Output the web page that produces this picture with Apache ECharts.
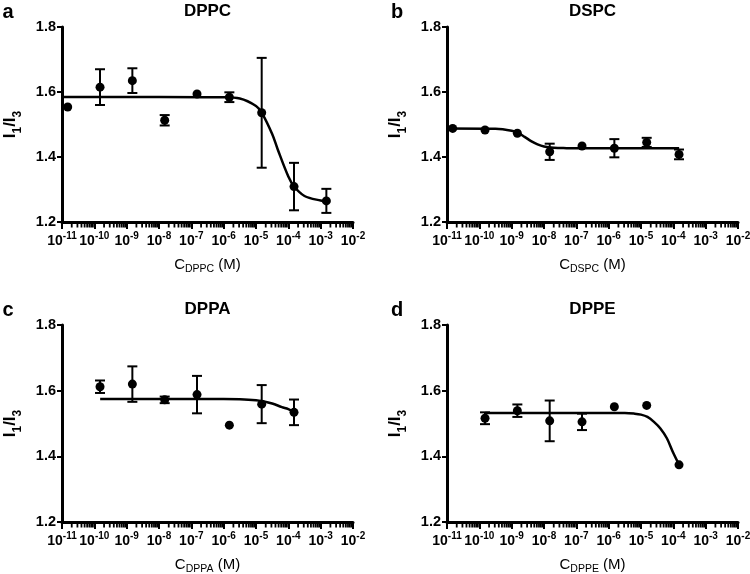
<!DOCTYPE html>
<html>
<head>
<meta charset="utf-8">
<script src="https://cdn.jsdelivr.net/npm/echarts@6/dist/echarts.min.js"></script>
<style>html,body{margin:0;padding:0;background:#fff}#c{width:750px;height:574px}</style>
</head>
<body>
<div id="c"></div>
<script>
// ---- data ----
const panelTitles = ['DPPC', 'DSPC', 'DPPA', 'DPPE'];
const panelLetters = ['a', 'b', 'c', 'd'];
const yTicks = [1.2, 1.4, 1.6, 1.8];

// Panel a: DPPC
const aConc = [1.5e-11, 1.5e-10, 1.5e-9, 1.5e-8, 1.5e-7, 1.5e-6, 1.5e-5, 1.5e-4, 1.5e-3];
const aMean = [1.554, 1.615, 1.635, 1.513, 1.594, 1.584, 1.536, 1.309, 1.265];
const aErr  = [0, 0.055, 0.038, 0.016, 0, 0.015, 0.169, 0.073, 0.037];
const aFitLogC = [-11, -8, -6, -5.5, -5, -4.82, -4.5, -4.33, -4, -3.82, -3.5, -3, -2.82];
const aFitY    = [1.585, 1.585, 1.584, 1.580, 1.557, 1.536, 1.471, 1.424, 1.340, 1.309, 1.280, 1.266, 1.264];

// Panel b: DSPC
const bConc = [1.5e-11, 1.5e-10, 1.5e-9, 1.5e-8, 1.5e-7, 1.5e-6, 1.5e-5, 1.5e-4];
const bMean = [1.488, 1.483, 1.473, 1.416, 1.434, 1.427, 1.445, 1.408];
const bErr  = [0, 0, 0, 0.025, 0, 0.028, 0.014, 0.015];
const bFitLogC = [-11, -9.5, -9, -8.8, -8.6, -8.4, -8.2, -8, -7.7, -7.3, -7, -3.82];
const bFitY    = [1.488, 1.487, 1.481, 1.474, 1.462, 1.449, 1.439, 1.4325, 1.4286, 1.4273, 1.427, 1.427];

// Panel c: DPPA
const cConc = [1.5e-10, 1.5e-9, 1.5e-8, 1.5e-7, 1.5e-6, 1.5e-5, 1.5e-4];
const cMean = [1.612, 1.620, 1.572, 1.588, 1.495, 1.559, 1.534];
const cErr  = [0.019, 0.054, 0.010, 0.057, 0, 0.058, 0.039];
const cFitLogC = [-9.82, -7, -6, -5.5, -5, -4.8, -4.5, -4.2, -4, -3.82];
const cFitY    = [1.575, 1.575, 1.575, 1.574, 1.571, 1.568, 1.561, 1.550, 1.544, 1.535];

// Panel d: DPPE
const dConc = [1.5e-10, 1.5e-9, 1.5e-8, 1.5e-7, 1.5e-6, 1.5e-5, 1.5e-4];
const dMean = [1.516, 1.539, 1.508, 1.505, 1.551, 1.555, 1.374];
const dErr  = [0.018, 0.019, 0.062, 0.025, 0, 0, 0];
const dFitLogC = [-9.82, -7, -6, -5.5, -5.2, -5, -4.8, -4.6, -4.4, -4.2, -4, -3.82];
const dFitY    = [1.532, 1.532, 1.532, 1.532, 1.530, 1.527, 1.520, 1.505, 1.485, 1.455, 1.41, 1.374];

// ---- chart ----
const FONT = '"Liberation Sans", Arial, Helvetica, sans-serif';
const panels = [
  {conc: aConc, mean: aMean, err: aErr, fx: aFitLogC, fy: aFitY},
  {conc: bConc, mean: bMean, err: bErr, fx: bFitLogC, fy: bFitY},
  {conc: cConc, mean: cMean, err: cErr, fx: cFitLogC, fy: cFitY},
  {conc: dConc, mean: dMean, err: dErr, fx: dFitLogC, fy: dFitY}
];
const grids = [
  {left: 62, top: 27, width: 291, height: 195, outerBoundsMode: 'none', containLabel: false},
  {left: 447, top: 27, width: 291, height: 195, outerBoundsMode: 'none', containLabel: false},
  {left: 62, top: 325, width: 291, height: 197, outerBoundsMode: 'none', containLabel: false},
  {left: 447, top: 325, width: 291, height: 197, outerBoundsMode: 'none', containLabel: false}
];

const xAxes = [], yAxes = [], series = [], graphics = [];
panels.forEach((p, i) => {
  xAxes.push({
    type: 'log', logBase: 10, gridIndex: i, min: 1e-11, max: 1e-2,
    splitLine: {show: false},
    axisLine: {lineStyle: {color: '#000', width: 3}},
    axisTick: {show: true, length: 7, lineStyle: {color: '#000', width: 2}},
    axisLabel: {
      margin: 9, color: '#000',
      formatter: v => '{b|10}{s|' + Math.round(Math.log10(v)) + '}',
      rich: {
        b: {fontSize: 14, fontWeight: 'bold', fontFamily: FONT, color: '#000', lineHeight: 17, verticalAlign: 'bottom'},
        s: {fontSize: 10, fontWeight: 'bold', fontFamily: FONT, color: '#000', verticalAlign: 'top'}
      }
    },
    name: '{m|C}{s|' + panelTitles[i] + '}{m| (M)}',
    nameLocation: 'middle', nameGap: 35,
    nameTextStyle: {
      rich: {
        m: {fontSize: 15, fontFamily: FONT, color: '#000', lineHeight: 18, verticalAlign: 'top'},
        s: {fontSize: 10.5, fontFamily: FONT, color: '#000', verticalAlign: 'bottom'}
      }
    }
  });
  yAxes.push({
    type: 'value', gridIndex: i, min: 1.2, max: 1.8, interval: 0.2,
    splitLine: {show: false},
    axisLine: {show: true, lineStyle: {color: '#000', width: 3}},
    axisTick: {show: true, length: 5, lineStyle: {color: '#000', width: 2}},
    axisLabel: {margin: 6, color: '#000', fontSize: 14.5, fontWeight: 'bold', fontFamily: FONT,
      formatter: v => v.toFixed(1)},
    name: '{m|I}{s|1}{m|/I}{s|3}',
    nameLocation: 'middle', nameRotate: 90, nameGap: 38,
    nameTextStyle: {
      rich: {
        m: {fontSize: 17, fontWeight: 'bold', fontFamily: FONT, color: '#000', lineHeight: 22, verticalAlign: 'top'},
        s: {fontSize: 12, fontWeight: 'bold', fontFamily: FONT, color: '#000', verticalAlign: 'bottom'}
      }
    }
  });
  // fitted curve
  series.push({
    type: 'line', xAxisIndex: i, yAxisIndex: i, smooth: 0.35, showSymbol: false, silent: true,
    lineStyle: {color: '#000', width: 2.5},
    data: p.fx.map((lx, j) => [Math.pow(10, lx), p.fy[j]]), z: 3
  });
  // error bars
  series.push({
    type: 'custom', xAxisIndex: i, yAxisIndex: i, silent: true, clip: false, z: 4,
    data: p.conc.map((c, j) => [c, p.mean[j], p.err[j]]),
    renderItem: (params, api) => {
      const x = api.value(0), y = api.value(1), e = api.value(2);
      if (!e) return null;
      const t = api.coord([x, y + e]), b = api.coord([x, y - e]);
      const hw = 5, st = {stroke: '#000', lineWidth: 2};
      return {type: 'group', children: [
        {type: 'line', shape: {x1: t[0], y1: t[1], x2: b[0], y2: b[1]}, style: st},
        {type: 'line', shape: {x1: t[0] - hw, y1: t[1], x2: t[0] + hw, y2: t[1]}, style: st},
        {type: 'line', shape: {x1: b[0] - hw, y1: b[1], x2: b[0] + hw, y2: b[1]}, style: st}
      ]};
    }
  });
  // points
  series.push({
    type: 'scatter', xAxisIndex: i, yAxisIndex: i, symbolSize: 9, silent: true, z: 5,
    itemStyle: {color: '#000', opacity: 1},
    data: p.conc.map((c, j) => [c, p.mean[j]])
  });
  const g = grids[i];
  graphics.push({type: 'text', x: g.left + g.width / 2, y: g.top - 16,
    style: {text: panelTitles[i], font: 'bold 17px ' + FONT, fill: '#000', textAlign: 'center', textVerticalAlign: 'middle'}});
  graphics.push({type: 'text', x: (i % 2 === 0 ? 8 : 397), y: g.top - 15,
    style: {text: panelLetters[i], font: 'bold 20px ' + FONT, fill: '#000', textAlign: 'center', textVerticalAlign: 'middle'}});
});

const chart = echarts.init(document.getElementById('c'), null, {renderer: 'canvas'});
chart.setOption({
  animation: false,
  backgroundColor: '#fff',
  grid: grids,
  xAxis: xAxes,
  yAxis: yAxes,
  series: series
});

// minor ticks of the log axes (2..9 in each decade), placed through the axis scale
panels.forEach((p, i) => {
  for (let n = -11; n <= -3; n++) {
    for (let k = 2; k <= 9; k++) {
      const pt = chart.convertToPixel({xAxisIndex: i, yAxisIndex: i}, [k * Math.pow(10, n), 1.2]);
      if (!pt) continue;
      graphics.push({type: 'line', silent: true, z: 100,
        shape: {x1: pt[0], y1: pt[1], x2: pt[0], y2: pt[1] + 5.5},
        style: {stroke: '#000', lineWidth: 1.8}});
    }
  }
});
chart.setOption({graphic: graphics});
</script>
</body>
</html>
